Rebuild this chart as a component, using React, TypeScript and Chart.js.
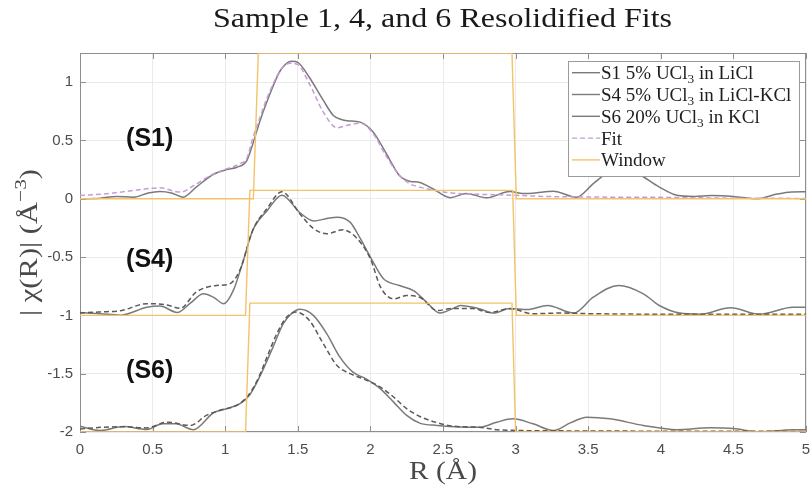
import { useEffect, useRef } from "react";
import { Chart, registerables } from "chart.js";

Chart.register(...registerables);

// ---------- data (R in Å, |chi(R)| with vertical offsets as plotted) ----------
const xTicks = [0, 0.5, 1, 1.5, 2, 2.5, 3, 3.5, 4, 4.5, 5];
const yTicks = [-2, -1.5, -1, -0.5, 0, 0.5, 1];

const legendLabels = [
  ["S1 5% UCl", "3", " in LiCl"],
  ["S4 5% UCl", "3", " in LiCl-KCl"],
  ["S6 20% UCl", "3", " in KCl"],
  ["Fit", "", ""],
  ["Window", "", ""],
];
const sampleTags = ["(S1)", "(S4)", "(S6)"];
const sampleTagY = [0.51, -0.53, -1.48];

const s1Data: [number, number][] = [
  [0, 0.0], [0.14, 0.005], [0.25, 0.02], [0.37, 0.014], [0.47, 0.05], [0.55, 0.063],
  [0.63, 0.05], [0.71, 0.014], [0.8, 0.1], [0.92, 0.21], [1.01, 0.25], [1.08, 0.27],
  [1.15, 0.33], [1.19, 0.47], [1.24, 0.67], [1.29, 0.84], [1.38, 1.1], [1.458, 1.18],
  [1.5, 1.17], [1.58, 1.04], [1.676, 0.843], [1.745, 0.714], [1.8, 0.68], [1.84, 0.67],
  [1.93, 0.657], [2.02, 0.571], [2.11, 0.386], [2.2, 0.2], [2.27, 0.151], [2.34, 0.14],
  [2.43, 0.086], [2.55, 0.009], [2.66, 0.045], [2.8, 0.009], [2.96, 0.063], [3.05, 0.045],
  [3.12, 0.048], [3.26, 0.065], [3.42, 0.012], [3.535, 0.13], [3.65, 0.24], [3.73, 0.28],
  [3.85, 0.21], [3.99, 0.1], [4.11, 0.03], [4.23, 0.02], [4.35, 0.028], [4.5, 0.02],
  [4.66, 0.0], [4.8, 0.04], [4.9, 0.058], [5.0, 0.06],
];
const s1Fit: [number, number][] = [
  [0, 0.028], [0.18, 0.043], [0.37, 0.071], [0.55, 0.094], [0.69, 0.057], [0.8, 0.127],
  [0.92, 0.214], [1.01, 0.257], [1.1, 0.3], [1.15, 0.35], [1.19, 0.52], [1.24, 0.7],
  [1.286, 0.857], [1.38, 1.1], [1.446, 1.163], [1.5, 1.15], [1.58, 0.986], [1.676, 0.743],
  [1.77, 0.609], [1.84, 0.63], [1.93, 0.648], [2.02, 0.557], [2.11, 0.364], [2.2, 0.2],
  [2.27, 0.129], [2.34, 0.1], [2.43, 0.075], [2.57, 0.048], [2.7, 0.04], [2.85, 0.035],
  [3.0, 0.03], [3.2, 0.02], [3.5, 0.015], [4.0, 0.012], [4.5, 0.005], [5.0, 0.003],
];
const s1Window: [number, number][] = [
  [0, 0], [1.194, 0], [1.228, 1.25], [2.975, 1.25], [3.005, 0], [5, 0],
];

const s4Data: [number, number][] = [
  [0, -0.975], [0.14, -0.986], [0.28, -0.998], [0.46, -0.93], [0.55, -0.92], [0.67, -0.975],
  [0.76, -0.895], [0.85, -0.815], [0.92, -0.845], [0.99, -0.9], [1.056, -0.786], [1.12, -0.55],
  [1.19, -0.27], [1.29, -0.1], [1.39, 0.03], [1.515, -0.12], [1.61, -0.19], [1.7, -0.17],
  [1.77, -0.158], [1.86, -0.2], [1.93, -0.34], [2.0, -0.5], [2.09, -0.686], [2.2, -0.744],
  [2.3, -0.79], [2.39, -0.89], [2.48, -0.98], [2.57, -0.94], [2.62, -0.915], [2.75, -0.943],
  [2.85, -0.98], [2.96, -0.94], [3.08, -0.95], [3.22, -0.915], [3.4, -0.98], [3.535, -0.844],
  [3.71, -0.744], [3.88, -0.815], [3.99, -0.915], [4.13, -0.98], [4.27, -0.99], [4.48, -0.935],
  [4.68, -0.99], [4.91, -0.93], [5.0, -0.93],
];
const s4Fit: [number, number][] = [
  [0, -0.98], [0.14, -0.97], [0.28, -0.96], [0.46, -0.9], [0.6, -0.91], [0.69, -0.94],
  [0.8, -0.8], [0.94, -0.744], [1.03, -0.73], [1.1, -0.615], [1.19, -0.27], [1.29, -0.08],
  [1.39, 0.06], [1.515, -0.13], [1.61, -0.257], [1.7, -0.3], [1.81, -0.266], [1.9, -0.33],
  [2.0, -0.515], [2.07, -0.758], [2.16, -0.858], [2.25, -0.83], [2.34, -0.845], [2.46, -0.958],
  [2.57, -0.94], [2.7, -0.94], [2.82, -0.975], [2.96, -0.943], [3.12, -0.986], [3.3, -0.98],
  [3.5, -0.985], [4.0, -0.99], [4.5, -0.99], [5.0, -0.99],
];
const s4Window: [number, number][] = [
  [0, -1], [1.14, -1], [1.17, 0.072], [2.98, 0.072], [3.005, -1], [5, -1],
];

const s6Data: [number, number][] = [
  [0, -1.95], [0.14, -1.987], [0.3, -1.953], [0.46, -1.978], [0.57, -1.93], [0.66, -1.93],
  [0.78, -1.98], [0.92, -1.835], [1.01, -1.8], [1.1, -1.758], [1.17, -1.68], [1.24, -1.52],
  [1.33, -1.27], [1.4, -1.07], [1.46, -0.98], [1.515, -0.948], [1.607, -1.0], [1.7, -1.158],
  [1.79, -1.358], [1.88, -1.487], [1.97, -1.544], [2.07, -1.63], [2.16, -1.744], [2.25, -1.858],
  [2.34, -1.924], [2.46, -1.944], [2.62, -1.958], [2.75, -1.96], [2.87, -1.916], [2.98, -1.887],
  [3.12, -1.93], [3.26, -1.987], [3.38, -1.92], [3.49, -1.873], [3.65, -1.887], [3.88, -1.944],
  [4.11, -1.98], [4.34, -1.964], [4.5, -1.97], [4.68, -2.0], [4.91, -1.98], [5.0, -1.98],
];
const s6Fit: [number, number][] = [
  [0, -1.975], [0.14, -1.96], [0.3, -1.955], [0.46, -1.965], [0.6, -1.916], [0.76, -1.944],
  [0.87, -1.858], [0.96, -1.815], [1.08, -1.77], [1.15, -1.7], [1.22, -1.56], [1.3, -1.32],
  [1.355, -1.158], [1.42, -1.02], [1.49, -0.972], [1.58, -1.044], [1.676, -1.244], [1.77, -1.43],
  [1.86, -1.5], [1.95, -1.544], [2.07, -1.616], [2.16, -1.7], [2.25, -1.8], [2.34, -1.867],
  [2.46, -1.92], [2.57, -1.95], [2.75, -1.96], [2.87, -1.98], [2.98, -1.986], [3.3, -1.99],
  [4.0, -1.993], [5.0, -1.995],
];
const s6Window: [number, number][] = [
  [0, -2], [1.14, -2], [1.17, -0.895], [2.975, -0.895], [3.0, -2], [5, -2],
];

// ---------- styles ----------
const DATA_GRAY = "#7a7a7a";
const FIT_GRAY = "#5a5a5a";
const FIT_PURPLE = "#c79bd9";
const WIN_ORANGE = "#f3c36a";
const SERIF = "'Liberation Serif', 'DejaVu Serif', serif";
const SANS = "'Liberation Sans', Arial, sans-serif";

type Part = { t: string; mode?: "sub" | "sup" };

function drawRich(
  ctx: CanvasRenderingContext2D,
  parts: Part[],
  x: number,
  y: number,
  size: number,
  color: string,
  align: "left" | "center",
  target?: number
) {
  const widths = parts.map((p) => {
    const s = p.mode ? size * 0.7 : size;
    ctx.font = `${s}px ${SERIF}`;
    return ctx.measureText(p.t).width;
  });
  const total = widths.reduce((a, b) => a + b, 0);
  const sx = target ? target / total : 1;
  ctx.save();
  ctx.translate(align === "center" ? x - (total * sx) / 2 : x, y);
  ctx.scale(sx, 1);
  ctx.fillStyle = color;
  ctx.textAlign = "left";
  ctx.textBaseline = "alphabetic";
  let cx = 0;
  parts.forEach((p, i) => {
    const s = p.mode ? size * 0.7 : size;
    ctx.font = `${s}px ${SERIF}`;
    const dy = p.mode === "sub" ? size * 0.22 : p.mode === "sup" ? -size * 0.42 : 0;
    ctx.fillText(p.t, cx, dy);
    cx += widths[i];
  });
  ctx.restore();
}

const decor = {
  id: "decor",
  beforeDatasetsDraw(chart: any) {
    const { ctx, chartArea: a, scales } = chart;
    ctx.save();
    ctx.strokeStyle = "#8e8e8e";
    ctx.lineWidth = 1;
    ctx.strokeRect(a.left + 0.5, a.top + 0.5, a.right - a.left - 1, a.bottom - a.top - 1);
    ctx.beginPath();
    const tl = 6;
    xTicks.forEach((v) => {
      const px = Math.round(scales.x.getPixelForValue(v)) + 0.5;
      ctx.moveTo(px, a.bottom);
      ctx.lineTo(px, a.bottom - tl);
      ctx.moveTo(px, a.top);
      ctx.lineTo(px, a.top + tl);
    });
    yTicks.forEach((v) => {
      const py = Math.round(scales.y.getPixelForValue(v)) + 0.5;
      ctx.moveTo(a.left, py);
      ctx.lineTo(a.left + tl, py);
      ctx.moveTo(a.right, py);
      ctx.lineTo(a.right - tl, py);
    });
    ctx.stroke();
    ctx.restore();
  },
  afterDraw(chart: any) {
    const { ctx, chartArea: a, scales } = chart;
    ctx.save();
    // sample tags
    ctx.font = `bold 25px ${SANS}`;
    ctx.fillStyle = "#111";
    ctx.textAlign = "center";
    ctx.textBaseline = "middle";
    sampleTags.forEach((t, i) => {
      ctx.fillText(t, scales.x.getPixelForValue(0.48), scales.y.getPixelForValue(sampleTagY[i]));
    });

    // legend
    const lx = 568.5, ly = 61.5, lw = 231, lh = 115;
    ctx.fillStyle = "#ffffff";
    ctx.fillRect(lx, ly, lw, lh);
    ctx.strokeStyle = "#9a9a9a";
    ctx.lineWidth = 1;
    ctx.strokeRect(lx, ly, lw, lh);
    const styles = [
      { c: DATA_GRAY, d: [] as number[] },
      { c: DATA_GRAY, d: [] as number[] },
      { c: DATA_GRAY, d: [] as number[] },
      { c: FIT_PURPLE, d: [5, 3] },
      { c: WIN_ORANGE, d: [] as number[] },
    ];
    legendLabels.forEach((lab, i) => {
      const cy = 72.7 + i * 21.8;
      ctx.beginPath();
      ctx.setLineDash(styles[i].d);
      ctx.strokeStyle = styles[i].c;
      ctx.lineWidth = 1.4;
      ctx.moveTo(572, cy);
      ctx.lineTo(600, cy);
      ctx.stroke();
      ctx.setLineDash([]);
      const parts: Part[] = [{ t: lab[0] }];
      if (lab[1]) parts.push({ t: lab[1], mode: "sub" });
      if (lab[2]) parts.push({ t: lab[2] });
      drawRich(ctx, parts, 601, cy + 6.5, 19, "#1e1e1e", "left");
    });

    // title
    drawRich(ctx, [{ t: "Sample 1, 4, and 6 Resolidified Fits" }], 442.5, 27, 28, "#1a1a1a", "center", 459);

    // x axis title
    drawRich(ctx, [{ t: "R (Å)" }], (a.left + a.right) / 2, 479, 25, "#4a4a4a", "center", 68);

    // y axis title
    ctx.save();
    ctx.translate(36.5, (a.top + a.bottom) / 2);
    ctx.rotate(-Math.PI / 2);
    drawRich(
      ctx,
      [{ t: "| χ(R)| (Å" }, { t: "−3", mode: "sup" }, { t: ")" }],
      0,
      0,
      25,
      "#4a4a4a",
      "center",
      147
    );
    ctx.restore();
    ctx.restore();
  },
};

const toPts = (arr: [number, number][]) => arr.map(([x, y]) => ({ x, y }));
const fmtTick = (v: any) => `${Math.round(Number(v) * 100) / 100}`;

export default function App() {
  const ref = useRef<HTMLCanvasElement | null>(null);
  useEffect(() => {
    document.body.style.margin = "0";
    const canvas = ref.current!;
    const lineDs = (data: [number, number][], color: string, dash: number[], order: number) => ({
      data: toPts(data),
      borderColor: color,
      borderWidth: 1.5,
      borderDash: dash,
      pointRadius: 0,
      fill: false,
      cubicInterpolationMode: "monotone" as const,
      order,
    });
    const winDs = (data: [number, number][]) => ({
      data: toPts(data),
      borderColor: WIN_ORANGE,
      borderWidth: 1.4,
      pointRadius: 0,
      fill: false,
      tension: 0,
      order: 0,
    });
    const chart = new Chart(canvas, {
      type: "line",
      data: {
        datasets: [
          lineDs(s1Data, DATA_GRAY, [], 2),
          lineDs(s4Data, DATA_GRAY, [], 2),
          lineDs(s6Data, DATA_GRAY, [], 2),
          lineDs(s1Fit, FIT_PURPLE, [5, 3], 1),
          lineDs(s4Fit, FIT_GRAY, [5, 3], 1),
          lineDs(s6Fit, FIT_GRAY, [5, 3], 1),
          winDs(s1Window),
          winDs(s4Window),
          winDs(s6Window),
        ] as any,
      },
      options: {
        responsive: false,
        animation: false,
        events: [],
        layout: { padding: { top: 53, right: 5, left: 0, bottom: 0 } },
        plugins: { legend: { display: false }, title: { display: false }, tooltip: { enabled: false } },
        scales: {
          x: {
            type: "linear",
            min: 0,
            max: 5,
            afterFit: (s: any) => {
              s.height = 54;
              s.paddingLeft = 0;
              s.paddingRight = 0;
            },
            ticks: {
              stepSize: 0.5,
              padding: 9,
              color: "#4d4d4d",
              font: { family: SANS, size: 15 },
              maxRotation: 0,
              callback: fmtTick,
            },
            grid: { color: "#ebebeb", lineWidth: 1, drawTicks: false },
            border: { display: false },
          },
          y: {
            type: "linear",
            min: -2,
            max: 1.25,
            afterFit: (s: any) => {
              s.width = 80;
              s.paddingTop = 0;
              s.paddingBottom = 0;
            },
            ticks: {
              stepSize: 0.5,
              includeBounds: false,
              padding: 7,
              color: "#4d4d4d",
              font: { family: SANS, size: 15 },
              callback: fmtTick,
            },
            grid: { color: "#ebebeb", lineWidth: 1, drawTicks: false },
            border: { display: false },
          },
        },
      },
      plugins: [decor],
    } as any);
    return () => chart.destroy();
  }, []);
  return <canvas ref={ref} width={811} height={486} style={{ display: "block" }} />;
}
